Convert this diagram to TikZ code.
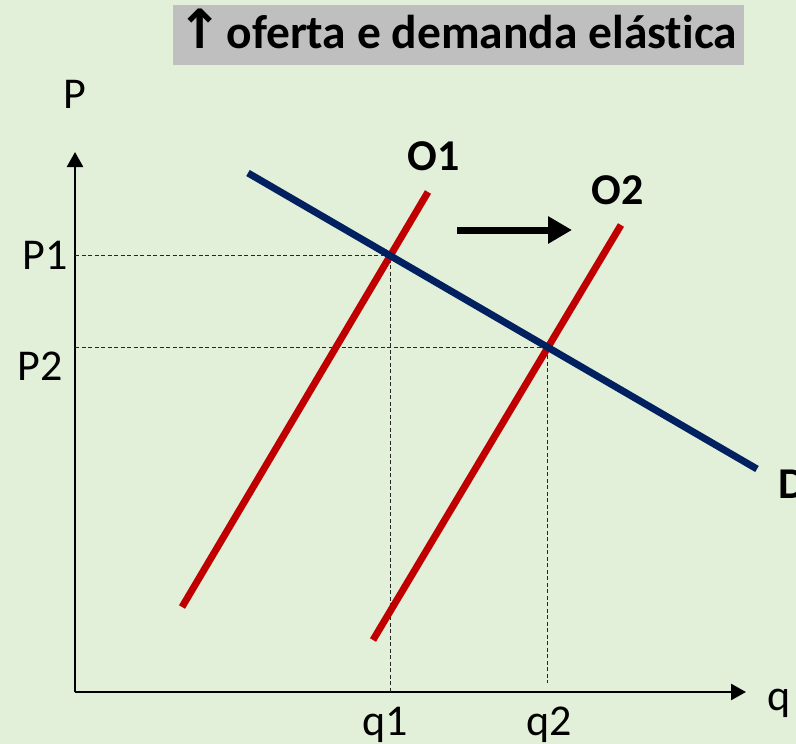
\documentclass[tikz,border=0pt]{standalone}
\usepackage{fontspec}
\setmainfont{Carlito}[Ligatures=NoCommon]
\newfontfamily\arrowfont{DejaVu Sans}
\usepackage{xcolor}
\definecolor{ColBg}{RGB}{226,239,217}
\definecolor{ColBox}{RGB}{191,191,191}
\definecolor{ColO}{RGB}{192,0,0}
\definecolor{ColD}{RGB}{0,32,96}
\usepackage{tikz}
\usetikzlibrary{arrows.meta}
\tikzstyle{Axis}=[draw=black,line width=2.6pt,-{Triangle[length=15pt,width=16pt]}]
\tikzstyle{Guide}=[draw=black!85,line width=1.1pt,dash pattern=on 4pt off 2.5pt]
\tikzstyle{Supply}=[draw=ColO,line width=7pt]
\tikzstyle{Demand}=[draw=ColD,line width=7pt]
\tikzstyle{Shift}=[draw=black,line width=7pt,-{Triangle[length=24pt,width=26pt]}]
\tikzstyle{Label}=[inner sep=0pt,anchor=base,font=\fontsize{44}{48}\selectfont]
\tikzstyle{LabelB}=[Label,font=\fontsize{44}{48}\selectfont\bfseries]
\tikzstyle{Title}=[inner sep=0pt,anchor=base west,font=\fontsize{47.5}{50}\selectfont\bfseries]

\begin{document}
\begin{tikzpicture}[x=1pt,y=-1pt]
        \useasboundingbox (0,0) rectangle (796,744);
        \fill[ColBg] (0,0) rectangle (796,744);
        \fill[ColBox] (173,5) rectangle (744,65);
        \node[Title](t)at(177,48){{\arrowfont\fontsize{54}{56}\selectfont↑}\hspace{4pt}oferta e demanda elástica};
        % axes
        \coordinate(0)at(75,692);
        \coordinate(pt)at(75,152);
        \coordinate(qt)at(746,692);
        \draw[Axis](0)--(pt);
        \draw[Axis](0)--(qt);
        % curves
        \coordinate(d1)at(248,173);
        \coordinate(d2)at(757,469);
        \coordinate(a1)at(182,607);
        \coordinate(a2)at(428,192);
        \coordinate(b1)at(373,640);
        \coordinate(b2)at(621,225);
        \coordinate(e1)at(intersection of d1--d2 and a1--a2);
        \coordinate(e2)at(intersection of d1--d2 and b1--b2);
        \draw[Guide](0|-e1)--(e1)--(e1|-0);
        \draw[Guide](0|-e2)--(e2)--([yshift=9pt]e2|-0);
        \draw[Supply](a1)--(a2);
        \draw[Supply](b1)--(b2);
        \draw[Demand](d1)--(d2);
        \coordinate(s1)at(457,230);
        \coordinate(s2)at(572,230);
        \draw[Shift](s1)--(s2);
        % labels
        \node[Label](P)at(75,108){P};
        \node[Label](P1)at(45,269){P1};
        \node[Label](P2)at(40,380){P2};
        \node[Label](q)at(779,710){q};
        \node[Label](q1)at(385,735){q1};
        \node[Label](q2)at(549,735){q2};
        \node[LabelB](O1)at(434,170){O1};
        \node[LabelB](O2)at(618,204){O2};
        \node[LabelB,anchor=base west](D)at(778,498){D};
    \end{tikzpicture}
\end{document}
